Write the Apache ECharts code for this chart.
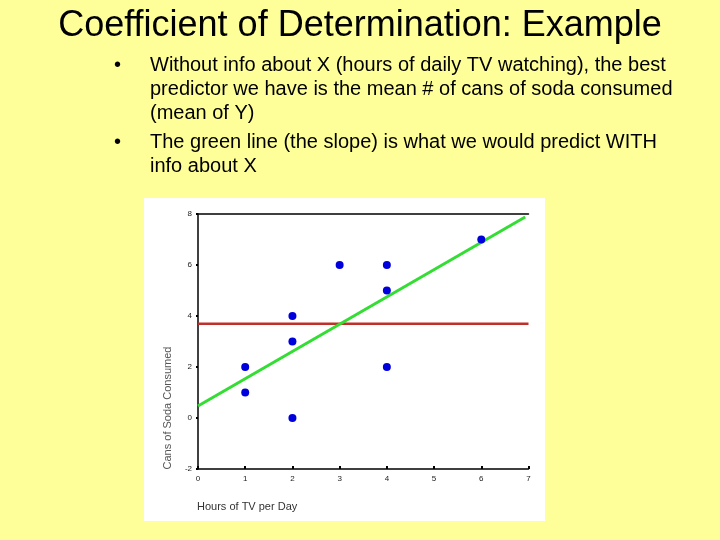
<!DOCTYPE html>
<html>
<head>
<meta charset="utf-8">
<script src="https://cdn.jsdelivr.net/npm/echarts@6/dist/echarts.min.js"></script>
<style>
html,body{margin:0;padding:0;background:#FFFF99;}
#main{width:720px;height:540px;}
</style>
</head>
<body>
<div id="main"></div>
<script>
// Data
const hoursTV = [1, 1, 2, 2, 2, 3, 4, 4, 4, 6];
const cansSoda = [2, 1, 4, 3, 0, 6, 6, 5, 2, 7];
const meanLineX = [0, 7];
const meanLineY = [3.7, 3.7];
const fitLineX = [0, 6.93];
const fitLineY = [0.47, 7.88];
const titleText = 'Coefficient of Determination: Example';
const bullet1 = ['Without info about X (hours of daily TV watching), the best',
                 'predictor we have is the mean # of cans of soda consumed',
                 '(mean of Y)'];
const bullet2 = ['The green line (the slope) is what we would predict WITH',
                 'info about X'];
const xAxisName = 'Hours of TV per Day';
const yAxisName = 'Cans of Soda Consumed';

const font = '"Liberation Sans", Arial, sans-serif';
const chart = echarts.init(document.getElementById('main'));

const points = hoursTV.map((x, i) => [x, cansSoda[i]]);
const meanLine = meanLineX.map((x, i) => [x, meanLineY[i]]);
const fitLine = fitLineX.map((x, i) => [x, fitLineY[i]]);

const textEls = [];
const lineH = 24;
textEls.push({type:'text', left:114, top:55, style:{text:'•', font:'20px ' + font, fill:'#000'}});
bullet1.forEach((t, i) => textEls.push({type:'text', left:150, top:55 + i*lineH, style:{text:t, font:'20px ' + font, fill:'#000'}}));
textEls.push({type:'text', left:114, top:132, style:{text:'•', font:'20px ' + font, fill:'#000'}});
bullet2.forEach((t, i) => textEls.push({type:'text', left:150, top:132 + i*lineH, style:{text:t, font:'20px ' + font, fill:'#000'}}));

chart.setOption({
  backgroundColor: '#FFFF99',
  animation: false,
  title: {
    text: titleText, left: 'center', top: 3,
    textStyle: {fontFamily: font, fontSize: 36, fontWeight: 'normal', color: '#000'}
  },
  graphic: [
    {type:'rect', left:144, top:198, z:-10, shape:{width:401, height:323}, style:{fill:'#fff'}},
    ...textEls,
    {type:'text', left:197, top:501, style:{text:xAxisName, font:'11px ' + font, fill:'#333'}},
    {type:'text', x:168, y:408, rotation:Math.PI/2, style:{text:yAxisName, font:'11px ' + font, fill:'#555', align:'center', verticalAlign:'middle'}}
  ],
  grid: {left: 198, top: 214, width: 330.5, height: 255, containLabel: false},
  xAxis: [{
    type: 'value', min: 0, max: 7, interval: 1, position: 'bottom',
    axisLine: {show: true, onZero: false, lineStyle: {color: '#000', width: 1.5}},
    axisTick: {show: true, inside: true, length: 3, lineStyle: {color: '#000', width: 2}},
    axisLabel: {fontFamily: font, fontSize: 8, color: '#222', margin: 6},
    splitLine: {show: false}
  }, {
    type: 'value', min: 0, max: 7, position: 'top',
    axisLine: {show: true, onZero: false, lineStyle: {color: '#000', width: 1.5}},
    axisTick: {show: false}, axisLabel: {show: false}, splitLine: {show: false}
  }],
  yAxis: {
    type: 'value', min: -2, max: 8, interval: 2,
    axisLine: {show: true, onZero: false, lineStyle: {color: '#000', width: 1.5}},
    axisTick: {show: true, length: 2, lineStyle: {color: '#000', width: 2}},
    axisLabel: {fontFamily: font, fontSize: 8, color: '#222', margin: 6},
    splitLine: {show: false}
  },
  series: [
    {type: 'line', data: meanLine, showSymbol: false, symbol: 'none',
     lineStyle: {color: '#c0302a', width: 2.5}, z: 2},
    {type: 'line', data: fitLine, showSymbol: false, symbol: 'none',
     lineStyle: {color: '#33dd33', width: 3}, z: 3},
    {type: 'scatter', data: points, symbolSize: 8,
     itemStyle: {color: '#0000dd', opacity: 1}, z: 4}
  ]
});
</script>
</body>
</html>
